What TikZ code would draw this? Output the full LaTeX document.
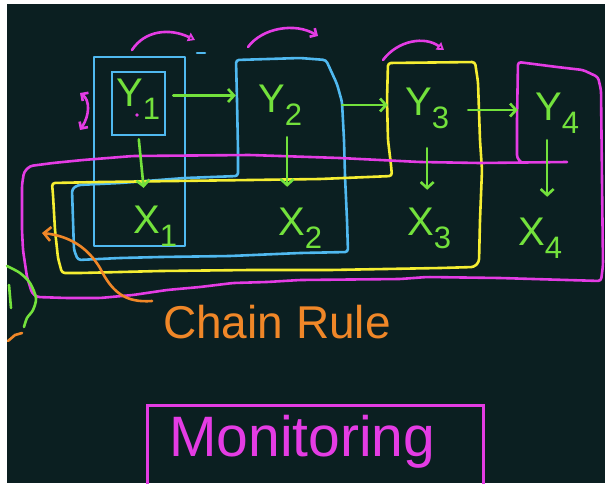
\documentclass[tikz,border=0pt]{standalone}
\usepackage{fontspec}
\setmainfont{Liberation Sans}
\usetikzlibrary{arrows.meta,calc}

\definecolor{board}{RGB}{11,31,33}
\definecolor{inkblue}{RGB}{80,185,240}
\definecolor{inkgreen}{RGB}{115,225,60}
\definecolor{inkyellow}{RGB}{245,238,50}
\definecolor{inkpink}{RGB}{228,60,228}
\definecolor{inkorange}{RGB}{240,135,40}

% variable with a lowered index
\newcommand\sublbl[2]{#1\raisebox{-13pt}{\fontsize{31}{31}\selectfont #2}}

\begin{document}
\begin{tikzpicture}[x=1pt,y=-1pt,
  ink/.style={line width=2.6pt,line cap=round,line join=round},
  lbl/.style={text=inkgreen,font=\fontsize{40}{40}\selectfont,inner sep=0pt,
              text height=30pt,text depth=14pt,anchor=base west},
  cell/.style={inner sep=0pt,draw=none},
  garrow/.style={ink,draw=inkgreen,-{Straight Barb[length=6pt,width=13pt]}},
  parrow/.style={ink,draw=inkpink,-{Triangle[open,length=7pt,width=9pt]}}]

\useasboundingbox (0,0) rectangle (605,483);
\fill[white] (0,0) rectangle (605,483);
\fill[board] (7,4) rectangle (605,483);

% ---- blue: first column and the Y2/X2 frame
\draw[ink,draw=inkblue] (94,57) rectangle (185,246);
\node[cell,draw=inkblue,line width=2.6pt,minimum width=53pt,minimum height=63pt]
  (y1box) at (138.5,103.5) {};
\draw[ink,draw=inkblue,rounded corners=3pt]
  (236,60) -- (300,58) -- (326,60) -- (337,84) -- (342,102) -- (344,140)
  -- (345,176) -- (347,220) -- (348,252) -- (300,253) -- (230,256)
  -- (160,257) -- (120,258) -- (78,260) -- (74,250) -- (73,220) -- (72,189)
  -- (78,185) -- (120,183) -- (185,178) -- (238,176) -- (238,150)
  -- (237,100) -- cycle;
\draw[ink,draw=inkblue] (197,53) -- (205,53);

% ---- yellow frame
\draw[ink,draw=inkyellow,rounded corners=3pt]
  (388,63) -- (475,62) -- (478,82) -- (480,140) -- (482,170) -- (480,220)
  -- (479,262) -- (474,267) -- (440,268) -- (330,270) -- (250,270)
  -- (160,271) -- (80,273) -- (62,273) -- (58,258) -- (55,230) -- (53,195)
  -- (52,183) -- (100,182) -- (250,180) -- (320,179) -- (392,176)
  -- (391,165) -- (388,140) -- (387,100) -- cycle;

% ---- magenta frame
\draw[ink,draw=inkpink,rounded corners=3pt]
  (567,162) -- (480,163) -- (420,162) -- (340,158) -- (250,155)
  -- (133,156) -- (83,160) -- (53,163) -- (30,166) -- (24,172) -- (22,185)
  -- (22,230) -- (23,250) -- (27,277) -- (32,293) -- (37,297) -- (67,298)
  -- (100,298) -- (133,295) -- (167,290) -- (200,287) -- (233,283)
  -- (267,282) -- (300,280) -- (400,279) -- (427,277) -- (500,278)
  -- (567,280) -- (601,281) -- (603,265) -- (602,180) -- (601,90)
  -- (598,77) -- (583,70) -- (557,67) -- (518,62) -- (517,120) -- (517,158)
  -- (521,162);

% ---- invisible cells for the later columns
\node[cell,minimum width=104pt,minimum height=118pt] (y2cell) at (288,117) {};
\node[cell,minimum width=90pt,minimum height=114pt] (y3cell) at (433,119) {};
\node[cell,minimum width=82pt,minimum height=100pt] (y4cell) at (559,112) {};

% ---- variables
\node[lbl] (y1) at (116,106) {\sublbl{Y}{1}};
\node[lbl] (y2) at (258,112) {\sublbl{Y}{2}};
\node[lbl] (y3) at (405,115) {\sublbl{Y}{3}};
\node[lbl] (y4) at (535,120) {\sublbl{Y}{4}};
\node[lbl] (x1) at (133,233) {\sublbl{X}{1}};
\node[lbl] (x2) at (278,235) {\sublbl{X}{2}};
\node[lbl] (x3) at (407,235) {\sublbl{X}{3}};
\node[lbl] (x4) at (518,245) {\sublbl{X}{4}};
\fill[inkpink] (137,115) circle (1.8pt);

% ---- horizontal dependencies
\draw[garrow,shorten <=7pt] ([yshift=8pt]y1box.east) -- ([yshift=8pt]y1box.east -| y2cell.west);
\draw[garrow,shorten <=2pt] ([yshift=12pt]y2cell.east) -- ([yshift=12pt]y2cell.east -| y3cell.west);
\draw[garrow,shorten <=-10pt] ([yshift=9pt]y3cell.east) -- ([yshift=9pt]y3cell.east -| y4cell.west);

% ---- emissions
\draw[garrow,shorten <=3pt,shorten >=15pt] (y1box.south) -- ([xshift=-10pt]x1.north);
\draw[garrow,shorten <=11pt,shorten >=18pt] ([xshift=7pt]y2.south) -- ([xshift=7pt]y2.south |- x2.north);
\draw[garrow,shorten <=19pt,shorten >=15pt] (y3.south) -- (y3.south |- x3.north);
\draw[garrow,shorten <=6pt,shorten >=18pt] ([xshift=-10pt]y4.south) -- ([xshift=-10pt]y4.south |- x4.north);

% ---- transitions over the top
\draw[parrow] (132,50) .. controls (145,30) and (170,28) .. (195,40);
\draw[ink,draw=inkpink,-{Straight Barb[length=5pt,width=10pt]}]
  (248,47) .. controls (262,28) and (295,22) .. (318,36);
\draw[parrow] (383,60) .. controls (398,40) and (425,36) .. (444,50);
\draw[ink,draw=inkpink,{Straight Barb[length=5pt,width=10pt]}-{Straight Barb[length=5pt,width=10pt]}]
  (80,93) .. controls (90,100) and (90,115) .. (80,130);

% ---- chain rule note
\draw[ink,draw=inkorange,-{Straight Barb[length=7pt,width=14pt]}]
  (152,301) .. controls (125,303) and (112,292) .. (100,268)
  .. controls (88,248) and (70,236) .. (42,233);
\node[text=inkorange,font=\fontsize{46}{46}\selectfont,inner sep=0pt,anchor=base west]
  (chain) at (163,338) {Chain Rule};

% ---- margin strokes
\draw[ink,draw=inkgreen] plot[smooth] coordinates
  {(7,266) (20,273) (30,283) (36,298) (33,310) (27,318) (24,327)};
\draw[ink,draw=inkgreen] (9,285) -- (11,308);
\draw[ink,draw=inkorange] (8,341) -- (15,335) -- (22,333);

% ---- monitoring box
\node[draw=inkpink,line width=2.6pt,text=inkpink,font=\fontsize{57}{57}\selectfont,
  minimum width=336pt,minimum height=90pt,anchor=north west,inner ysep=0pt,
  inner xsep=22pt,text width=292pt,align=left,
  text depth=32pt,text height=44pt] (mon) at (146,404) {Monitoring};
\end{tikzpicture}
\end{document}
